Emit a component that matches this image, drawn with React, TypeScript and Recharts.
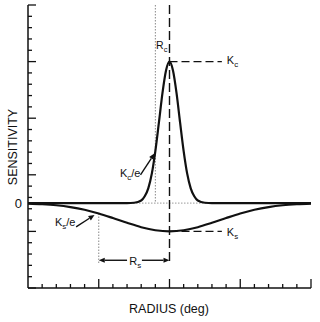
import React from 'react';
import { LineChart, Line, XAxis, YAxis, ReferenceLine, ReferenceDot } from 'recharts';

// center mechanism (narrow, positive)
const centerRadius = [0, 7, 7.5, 8, 8.25, 8.5, 8.75, 9, 9.25, 9.5, 9.75, 10, 10.25, 10.5, 10.75, 11, 11.25, 11.5, 11.75, 12, 12.5, 13, 20];
const centerSens = [0, 0, 0.03, 0.23, 0.6, 1.3, 2.6, 4.6, 7.1, 9.7, 11.7, 12.5, 11.7, 9.7, 7.1, 4.6, 2.6, 1.3, 0.6, 0.23, 0.03, 0, 0];

// surround mechanism (broad, negative)
const surroundRadius = [0, 1, 2, 3, 4, 5, 6, 7, 8, 9, 10, 11, 12, 13, 14, 15, 16, 17, 18, 19, 20];
const surroundSens = [-0.05, -0.1, -0.19, -0.35, -0.59, -0.92, -1.32, -1.74, -2.13, -2.4, -2.5, -2.4, -2.13, -1.74, -1.32, -0.92, -0.59, -0.35, -0.19, -0.1, -0.05];

// annotation values
const peakRadius = 10;
const Kc = 12.5;
const Ks = -2.5;
const Rc = 9;
const Rs = 5;
const KsOverE = -0.92;

const xTicks = Array.from({ length: 21 }, (_, i) => i);
const yTicks = Array.from({ length: 26 }, (_, i) => -7.5 + i);

const centerData = centerRadius.map((r, i) => ({ r, s: centerSens[i] }));
const surroundData = surroundRadius.map((r, i) => ({ r, s: surroundSens[i] }));

const INK = '#111';
const FONT = '"Liberation Sans", Arial, sans-serif';

const YTick = (props: any) => {
  const { x, y, index } = props;
  const len = index % 5 === 0 ? 8 : 4;
  return <line x1={x} y1={y} x2={x + len} y2={y} stroke={INK} strokeWidth={1.3} />;
};

const XTick = (props: any) => {
  const { x, y, index } = props;
  if (index === 0) return null;
  const len = index % 5 === 0 ? 9 : 4;
  return <line x1={x} y1={y} x2={x} y2={y - len} stroke={INK} strokeWidth={1.3} />;
};

const Arrow = (props: any) => {
  const { x1, y1, x2, y2 } = props;
  const a = Math.atan2(y2 - y1, x2 - x1);
  const L = 6, W = 2.6;
  const bx = x2 - L * Math.cos(a);
  const by = y2 - L * Math.sin(a);
  const pts = `${x2},${y2} ${bx - W * Math.sin(a)},${by + W * Math.cos(a)} ${bx + W * Math.sin(a)},${by - W * Math.cos(a)}`;
  return (
    <g>
      <line x1={x1} y1={y1} x2={bx} y2={by} stroke={INK} strokeWidth={1.4} />
      <polygon points={pts} fill={INK} />
    </g>
  );
};

const label = (main: string, sub: string, tail: string, anchor: string = 'start', size: number = 11) => (props: any) => (
  <text x={props.cx} y={props.cy} fontSize={size} fill={INK} textAnchor={anchor} fontFamily={FONT}>
    {main}
    <tspan fontSize={size * 0.72} dy={3}>{sub}</tspan>
    {tail ? <tspan fontSize={size} dy={-3}>{tail}</tspan> : null}
  </text>
);

const zeroLabel = (props: any) => (
  <text x={props.cx - 6} y={props.cy + 5} fontSize={13} fill={INK} textAnchor="end" fontFamily={FONT}>0</text>
);

export default function App() {
  return (
    <div style={{ position: 'absolute', left: 0, top: 0, width: 320, height: 322, background: '#fff' }}>
      <LineChart width={320} height={322} margin={{ top: 5, right: 9, bottom: 33, left: 27 }}>
        <XAxis
          type="number"
          dataKey="r"
          domain={[0, 20]}
          ticks={xTicks}
          interval={0}
          height={1}
          tickSize={0}
          tickMargin={0}
          tick={<XTick />}
          axisLine={{ stroke: INK, strokeWidth: 1.5 }}
          allowDataOverflow
        />
        <YAxis
          type="number"
          domain={[-7.5, 17.5]}
          ticks={yTicks}
          interval={0}
          width={1}
          tickSize={0}
          tickMargin={0}
          tick={<YTick />}
          axisLine={{ stroke: INK, strokeWidth: 1.5 }}
          allowDataOverflow
        />
        <ReferenceLine y={0} stroke="#999" strokeWidth={1} strokeDasharray="1.5 1.5" />
        <ReferenceLine segment={[{ x: Rc, y: 17.5 }, { x: Rc, y: 0 }]} stroke="#888" strokeWidth={1} strokeDasharray="1.5 1.5" />
        <ReferenceLine segment={[{ x: Rs, y: KsOverE }, { x: Rs, y: -5.4 }]} stroke="#888" strokeWidth={1} strokeDasharray="1.5 1.5" />
        <ReferenceLine segment={[{ x: peakRadius, y: 17.5 }, { x: peakRadius, y: -5.3 }]} stroke={INK} strokeWidth={1.4} strokeDasharray="9 4" />
        <ReferenceLine segment={[{ x: peakRadius, y: Kc }, { x: 13.7, y: Kc }]} stroke={INK} strokeWidth={1.3} strokeDasharray="8 4" />
        <ReferenceLine segment={[{ x: peakRadius, y: Ks }, { x: 13.7, y: Ks }]} stroke={INK} strokeWidth={1.3} strokeDasharray="8 4" />
        <Line data={surroundData} dataKey="s" type="monotone" stroke={INK} strokeWidth={2.2} dot={false} isAnimationActive={false} />
        <Line data={centerData} dataKey="s" type="monotone" stroke={INK} strokeWidth={2.2} dot={false} isAnimationActive={false} />
        <ReferenceLine segment={[{ x: 7.95, y: 2.5 }, { x: 8.95, y: 4.4 }]} shape={<Arrow />} />
        <ReferenceLine segment={[{ x: 3.4, y: -2.1 }, { x: 4.7, y: -1.05 }]} shape={<Arrow />} />
        <ReferenceLine segment={[{ x: 7.0, y: -5.05 }, { x: Rs, y: -5.05 }]} shape={<Arrow />} />
        <ReferenceLine segment={[{ x: 8.05, y: -5.05 }, { x: peakRadius, y: -5.05 }]} shape={<Arrow />} />
        <ReferenceDot x={0} y={0} r={0} shape={zeroLabel} />
        <ReferenceDot x={9.05} y={13.6} r={0} shape={label('R', 'c', '', 'start', 10.5)} />
        <ReferenceDot x={14.05} y={12.3} r={0} shape={label('K', 'c', '')} />
        <ReferenceDot x={7.95} y={2.3} r={0} shape={label('K', 'c', '/e', 'end')} />
        <ReferenceDot x={1.9} y={-2.05} r={0} shape={label('K', 's', '/e')} />
        <ReferenceDot x={14.05} y={-2.9} r={0} shape={label('K', 's', '')} />
        <ReferenceDot x={7.15} y={-5.5} r={0} shape={label('R', 's', '')} />
        <text transform="translate(16.5,147) rotate(-90)" textAnchor="middle" fontSize={12.5} fill={INK} fontFamily={FONT}>SENSITIVITY</text>
        <text x={169} y={313} textAnchor="middle" fontSize={12.5} fill={INK} fontFamily={FONT}>RADIUS (deg)</text>
      </LineChart>
    </div>
  );
}
